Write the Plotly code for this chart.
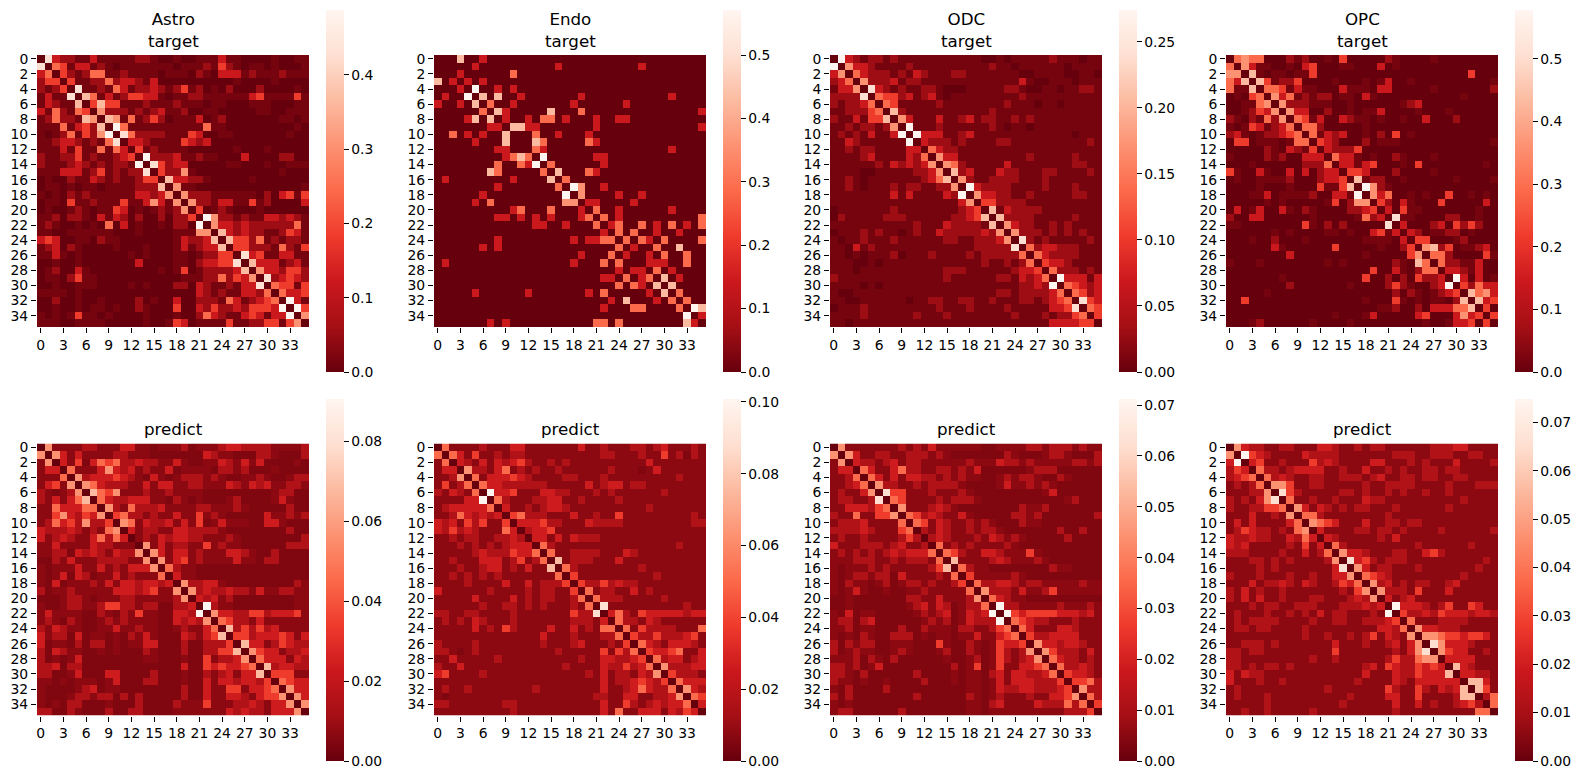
import plotly.graph_objects as go

W, H = 1583, 779
N = 36

# Colour steps used by the digit codes below (fraction of each panel's maximum)
TARGET_LEVELS = [0.0, 0.03, 0.11, 0.25, 0.375, 0.5, 0.625, 0.75, 0.875, 1.0]
PREDICT_LEVELS = [0.05, 0.075, 0.16, 0.26, 0.375, 0.5, 0.625, 0.75, 0.875, 1.0]

# Each matrix is symmetric with a zero diagonal. Row i holds columns i+1..35 as digit codes.
ASTRO_TARGET = [
    "83221131111122100100111311000010011",
    "5413312101111111011121421011010001",
    "421255112111101110210333121112111",
    "41122523321300000000001000010000",
    "8112153122321241201020002000010",
    "751312443310112211111134111141",
    "47441112111211101100011100011",
    "6222121231120011000001100111",
    "761512420111301200000001101",
    "95111111111151100000000010",
    "8522221114300110000000100",
    "332111143230000000000000",
    "41211110000001000100000",
    "9222311211000300002200",
    "842330000011000100111",
    "42261000000000001000",
    "7332210000010000000",
    "611000000000000001",
    "62221111110203414",
    "6221331141200003",
    "401210001000000",
    "96221211332321",
    "6332322222251",
    "732322112431",
    "74425121221",
    "4422215214",
    "834113311",
    "73331231",
    "6332442",
    "823432",
    "54414",
    "5334",
    "931",
    "94",
    "6",
]

# Endo target is mostly empty, so only the non-zero cells are listed: row -> {column: code}
ENDO_TARGET = {
    0: {3: 7, 6: 3}, 1: {5: 3, 16: 3, 27: 3}, 2: {3: 3, 10: 5}, 3: {0: 7, 2: 3, 4: 3, 6: 3},
    4: {3: 3, 5: 9, 8: 3, 10: 3}, 5: {1: 3, 4: 9, 6: 7, 8: 7, 11: 3, 19: 3, 31: 3},
    6: {0: 3, 3: 3, 5: 7, 7: 5, 10: 3, 18: 3, 25: 3}, 7: {6: 5, 8: 7, 15: 7, 19: 5, 35: 3},
    8: {4: 3, 5: 7, 7: 7, 9: 3, 12: 3, 14: 5, 15: 5, 17: 3, 21: 3, 24: 3, 25: 3},
    9: {7: 3, 8: 3, 10: 7, 11: 7, 12: 3, 13: 3, 21: 3, 35: 3},
    10: {2: 5, 4: 3, 6: 3, 9: 7, 13: 5, 16: 3, 20: 3},
    11: {5: 3, 9: 7, 13: 7, 14: 5, 20: 5, 21: 3}, 12: {8: 3, 9: 3, 13: 5, 14: 3, 31: 3},
    13: {9: 3, 10: 5, 11: 7, 12: 5, 14: 9, 21: 3, 22: 3},
    14: {8: 5, 11: 5, 12: 3, 13: 9, 15: 5, 22: 3},
    15: {7: 7, 8: 5, 14: 5, 16: 7, 20: 5, 21: 3}, 16: {1: 3, 10: 3, 15: 7, 17: 5},
    17: {8: 3, 16: 5, 18: 9, 19: 6, 22: 3}, 18: {6: 3, 17: 9, 19: 6, 24: 3, 27: 3},
    19: {5: 3, 7: 5, 17: 5, 18: 5, 20: 3, 21: 3, 26: 3},
    20: {10: 3, 11: 5, 15: 5, 19: 3, 21: 5, 24: 3, 31: 3},
    21: {8: 3, 9: 3, 11: 3, 13: 3, 15: 3, 19: 3, 20: 5, 22: 5, 35: 5},
    22: {13: 3, 14: 3, 17: 3, 21: 5, 23: 3, 24: 5, 27: 5, 29: 3, 31: 5, 33: 3, 35: 5},
    23: {22: 3, 24: 5, 26: 5, 29: 3, 32: 3},
    24: {8: 3, 18: 3, 20: 3, 21: 3, 22: 5, 23: 5, 25: 5, 27: 5, 28: 3, 30: 5, 35: 5},
    25: {6: 3, 8: 3, 24: 5, 26: 3, 29: 5, 32: 7}, 26: {19: 3, 23: 5, 25: 3, 28: 3, 30: 5, 33: 5},
    27: {1: 3, 18: 3, 22: 5, 24: 5, 28: 3, 29: 3, 30: 3, 33: 5},
    28: {24: 3, 26: 3, 27: 3, 29: 5, 31: 3},
    29: {22: 3, 23: 3, 25: 5, 27: 3, 28: 5, 30: 7, 32: 3}, 30: {24: 5, 26: 5, 27: 3, 29: 7, 31: 7},
    31: {5: 3, 12: 3, 20: 3, 22: 5, 28: 3, 30: 7, 32: 5}, 32: {23: 3, 25: 7, 29: 3, 31: 5, 33: 5},
    33: {22: 3, 26: 5, 27: 5, 32: 5, 34: 8, 35: 7}, 34: {33: 9, 35: 3},
    35: {7: 3, 9: 3, 21: 5, 22: 5, 24: 5, 33: 7, 34: 3},
}

ODC_TARGET = [
    "93212212111111111110010111112111011",
    "6332111121111111111211011111101111",
    "532221213211122111111100111100110",
    "62223122111111111111131001110111",
    "8321211221000111112210011011221",
    "544231231011111111121111111111",
    "54111112111111112111011011111",
    "7211111111111211111111111111",
    "63111311231221121211111111",
    "9111211111121011011111111",
    "933311231111111111111011",
    "32221211112211111111112",
    "5322111111111111111111",
    "633111111111211111211",
    "65211111311111111221",
    "7231113221112211112",
    "621122221112111111",
    "93222211112111211",
    "6332211211111221",
    "442222111111111",
    "71322221111111",
    "7222211111211",
    "632211212111",
    "62221212121",
    "8212111112",
    "523322211",
    "53222211",
    "4332111",
    "522212",
    "933313",
    "54323",
    "5423",
    "843",
    "54",
    "4",
]

# OPC target is listed the same way as Endo
OPC_TARGET = {
    0: {1: 5, 2: 6, 3: 5, 4: 5, 8: 2, 9: 1, 10: 2, 13: 1, 15: 4, 21: 2, 22: 1, 27: 1},
    1: {2: 6, 3: 3, 4: 1, 5: 1, 8: 1, 10: 3, 11: 4, 15: 1, 16: 1, 20: 3, 22: 1},
    2: {3: 7, 4: 1, 6: 1, 7: 1, 9: 1, 10: 1, 11: 4, 32: 4},
    3: {4: 7, 5: 4, 6: 1, 7: 2, 8: 2, 9: 4, 14: 1, 18: 1, 20: 1, 21: 3, 24: 1, 35: 1},
    4: {5: 5, 6: 5, 7: 4, 8: 1, 9: 3, 10: 1, 11: 1, 15: 3, 16: 1, 17: 1, 18: 1, 20: 3, 21: 3, 27: 1, 35: 2},
    5: {6: 6, 7: 3, 8: 5, 9: 1, 10: 2, 11: 1, 12: 2, 13: 2, 15: 1, 16: 1, 18: 3, 19: 1, 31: 1},
    6: {7: 6, 8: 2, 9: 2, 10: 2, 11: 1, 12: 1, 13: 1, 16: 1, 23: 1, 24: 2, 25: 3},
    7: {8: 6, 9: 3, 10: 3, 13: 2, 16: 1, 18: 1, 19: 1, 20: 3, 25: 1, 29: 1},
    8: {9: 5, 10: 4, 11: 1, 12: 3, 15: 3, 16: 2, 17: 1, 18: 1, 20: 1, 23: 1, 26: 3, 30: 2},
    9: {10: 5, 11: 5, 12: 2, 18: 1},
    10: {11: 5, 12: 1, 13: 3, 14: 2, 15: 3, 18: 1, 20: 2, 22: 4, 24: 1},
    11: {12: 4, 13: 3, 14: 2, 18: 2, 20: 1, 21: 1, 22: 1, 35: 1},
    12: {13: 3, 14: 2, 15: 2, 16: 2, 17: 4},
    13: {14: 5, 15: 3, 16: 3, 17: 1, 19: 1, 22: 2, 23: 1, 27: 1},
    14: {15: 3, 16: 3, 17: 1, 18: 3, 19: 4, 23: 1, 25: 4, 34: 1},
    15: {16: 4, 17: 4, 18: 3, 22: 2, 27: 1},
    16: {17: 7, 18: 1, 19: 2, 20: 2, 23: 1, 30: 1, 35: 1},
    17: {18: 9, 19: 6, 20: 2, 21: 1},
    18: {19: 6, 20: 3, 21: 5, 24: 1, 26: 1, 29: 4, 32: 1, 34: 1},
    19: {20: 4, 21: 2, 23: 3, 24: 1, 28: 4, 34: 3},
    20: {21: 3, 23: 4, 24: 1, 25: 1, 33: 1},
    21: {22: 8, 23: 1, 24: 1, 29: 2, 30: 2, 33: 1},
    22: {23: 3, 27: 2, 28: 3, 30: 4, 31: 2, 32: 4, 33: 2},
    23: {24: 3, 25: 2, 27: 1, 28: 1, 29: 2, 30: 2, 32: 1},
    24: {25: 4, 26: 4, 30: 1, 31: 2},
    25: {26: 6, 27: 7, 28: 2, 29: 4, 31: 1, 32: 1, 33: 2, 34: 3},
    26: {27: 5, 28: 5, 29: 2, 34: 4, 35: 1},
    27: {28: 5, 29: 2, 30: 2, 31: 1, 32: 1, 33: 3},
    28: {29: 3, 30: 3, 31: 2, 32: 1, 33: 3},
    29: {30: 9, 31: 3, 33: 3, 35: 1},
    30: {31: 4, 32: 2, 33: 5, 34: 3, 35: 3},
    31: {32: 7, 33: 5, 34: 6, 35: 3},
    32: {33: 7, 34: 3, 35: 4},
    33: {34: 4},
    34: {35: 4},
}

ASTRO_PREDICT = [
    "61111221113311011120111233222211112",
    "6313111122111000000032110002210002",
    "314035452232211310011321313000010",
    "51113632312113011110221200010000",
    "6233343210310122212100112100122",
    "653222113133112211132132311221",
    "75461112112111100000000012200",
    "5322333110210100012000013100",
    "621522231111221112100000200",
    "45221211311412100000311212",
    "6513223131401311100331000",
    "312211332222100000000200",
    "12132332211121000000002",
    "6131221141211000000222",
    "631331211133210020000",
    "61341211113110220000",
    "5211000000000000000",
    "311000000000000000",
    "622331000000000211",
    "62322322131122",
    "3231200000000",
    "921100000000",
    "633224423334",
    "54221311111",
    "7242423",
    "44233343132",
    "733124322",
    "64331223",
    "5333132",
    "723322",
    "44411",
    "5433",
    "633",
    "63",
    "6",
]

ENDO_PREDICT = [
    "51111211133111111131121112212311121",
    "5314112122111111111122111211412021",
    "32131323421121211111111113111111111",
    "6221351212112111111211101311111111",
    "51333432111122111211111111121111",
    "5332222221111131233122111111112",
    "93341113322111212111111211111",
    "5211122331121111211111111111",
    "3112123321111111111211111",
    "45222111311211411111111121",
    "3334221113222211111111122",
    "233411111111111111111111",
    "33131322211111111111111",
    "5211111111111111112111",
    "51122221113211111111",
    "7122211131111111111",
    "521111111121111111",
    "41111111111211111",
    "42242322111111111",
    "5122113121111111",
    "522211111211111",
    "81111111111211",
    "3521433333233",
    "5221321111111",
    "51422221115",
    "4224222341",
    "53213332",
    "43345113",
    "5233123",
    "622233",
    "42221",
    "5333",
    "632",
    "54",
    "3",
]

ODC_PREDICT = [
    "61111111212131111110011112212221211",
    "6311221122212100000002100012210002",
    "322123122111111211132212111112212",
    "53113522112212130000001222000000",
    "5313133221212110012122100210000",
    "622112122221000013112121000000",
    "84411121112100000000013000000",
    "5411112122210000000000012000",
    "611123210000000021120000000",
    "54232113100000221200000002",
    "5413211212100021100000000",
    "213211212210000000200200",
    "23211121321210000020000",
    "5121211112100000000000",
    "542113321114100000000",
    "71111232111210000000",
    "5211000000002110000",
    "411111210000000000",
    "52233212211111211",
    "6222131124111111",
    "532110000000000",
    "92211111211121",
    "943444433323",
    "54322111211",
    "5311133211",
    "42233331112",
    "63323321",
    "6422213",
    "532212",
    "52232",
    "43321",
    "4452",
    "622",
    "52",
    "4",
]

OPC_PREDICT = [
    "63221122111332112122111111222331111",
    "9432111132222111111122211222112211",
    "3411211142321111331112121113111121",
    "52212333311211311212112212211111",
    "52321122112221231122122112211113",
    "66411221111121122221111211122211",
    "84211111221211212112112111111",
    "5112112111322111111111121111",
    "63132121221112111111211111",
    "5521111111121111111",
    "6543111311221221111111",
    "31111221221211112111111211",
    "3211111213111111111111111",
    "5211111111121111112111",
    "6332111221134211111",
    "8342122211111111112",
    "631221112111111121",
    "54321111111112111",
    "6231212211231111",
    "6222141113111",
    "3123111111111",
    "9333212411431",
    "4223243332332",
    "5111222211111",
    "63322211111",
    "665443443",
    "863332",
    "6433112",
    "33331",
    "7321",
    "33221",
    "773",
    "74",
    "25",
    "5",
]

TITLES = ["Astro<br>target", "Endo<br>target", "ODC<br>target", "OPC<br>target",
          "predict", "predict", "predict", "predict"]
V_MAX = [0.4875, 0.571, 0.274, 0.578, 0.0905, 0.1008, 0.0712, 0.0748]
CBAR_STEP = [0.1, 0.1, 0.05, 0.1, 0.02, 0.02, 0.01, 0.01]
CBAR_FORMAT = [".1f", ".1f", ".2f", ".1f", ".2f", ".2f", ".2f", ".2f"]
X_TICKS = list(range(0, 36, 3))
Y_TICKS = list(range(0, 36, 2))

REDS_R = [[0, "#67000d"], [0.125, "#a50f15"], [0.25, "#cb181d"], [0.375, "#ef3b2c"],
          [0.5, "#fb6a4a"], [0.625, "#fc9272"], [0.75, "#fcbba1"], [0.875, "#fee0d2"],
          [1, "#fff5f0"]]

# Pixel layout of the 4x2 grid
HEAT_LEFT = [37, 434, 830, 1226]
CBAR_LEFT = [326, 723, 1119, 1515]
HEAT_SIZE = 272
HEAT_TOP = [55, 443.5]
CBAR_TOP = [10, 399]
CBAR_LEN = 362


def from_rows(rows, vmax, levels):
    z = [[0.0] * N for _ in range(N)]
    for i, row in enumerate(rows):
        codes = row[: N - 1 - i].ljust(N - 1 - i, "1")
        for k, ch in enumerate(codes):
            v = levels[int(ch)] * vmax
            z[i][i + 1 + k] = v
            z[i + 1 + k][i] = v
    return z


def from_cells(cells, vmax, levels):
    z = [[0.0] * N for _ in range(N)]
    for i, row in cells.items():
        for j, code in row.items():
            v = levels[code] * vmax
            z[i][j] = max(z[i][j], v)
            z[j][i] = max(z[j][i], v)
    return z


matrices = [
    from_rows(ASTRO_TARGET, V_MAX[0], TARGET_LEVELS),
    from_cells(ENDO_TARGET, V_MAX[1], TARGET_LEVELS),
    from_rows(ODC_TARGET, V_MAX[2], TARGET_LEVELS),
    from_cells(OPC_TARGET, V_MAX[3], TARGET_LEVELS),
    from_rows(ASTRO_PREDICT, V_MAX[4], PREDICT_LEVELS),
    from_rows(ENDO_PREDICT, V_MAX[5], PREDICT_LEVELS),
    from_rows(ODC_PREDICT, V_MAX[6], PREDICT_LEVELS),
    from_rows(OPC_PREDICT, V_MAX[7], PREDICT_LEVELS),
]

FONT = "DejaVu Sans"
fig = go.Figure()
annotations = []
layout_axes = {}

for idx, z in enumerate(matrices):
    col, row = idx % 4, idx // 4
    suffix = "" if idx == 0 else str(idx + 1)
    x0 = HEAT_LEFT[col]
    top = HEAT_TOP[row]
    vmax, step = V_MAX[idx], CBAR_STEP[idx]
    count = int(vmax / step + 1e-9) + 1
    fig.add_trace(go.Heatmap(
        z=z, x=list(range(N)), y=list(range(N)),
        xaxis="x" + suffix, yaxis="y" + suffix,
        zmin=0, zmax=vmax, colorscale=REDS_R, hoverongaps=False,
        colorbar=dict(
            thickness=18, thicknessmode="pixels",
            lenmode="fraction", len=CBAR_LEN / H,
            x=CBAR_LEFT[col] / W, xanchor="left", xpad=0,
            y=1 - (CBAR_TOP[row] + CBAR_LEN) / H, yanchor="bottom", ypad=0,
            outlinewidth=0,
            ticks="outside", ticklen=5, tickwidth=1, tickcolor="black",
            tickmode="array",
            tickvals=[k * step for k in range(count)],
            tickformat=CBAR_FORMAT[idx],
            tickfont=dict(family=FONT, size=13.9, color="black"),
        ),
    ))
    layout_axes["xaxis" + suffix] = dict(
        domain=[x0 / W, (x0 + HEAT_SIZE) / W], range=[-0.5, N - 0.5],
        anchor="y" + suffix, tickmode="array", tickvals=X_TICKS, ticks="outside",
        ticklen=5, tickwidth=1, tickcolor="black", showgrid=False, zeroline=False,
        showline=False, tickangle=0, tickfont=dict(family=FONT, size=13.9, color="black"),
    )
    layout_axes["yaxis" + suffix] = dict(
        domain=[1 - (top + HEAT_SIZE) / H, 1 - top / H], range=[N - 0.5, -0.5],
        anchor="x" + suffix, tickmode="array", tickvals=Y_TICKS, ticks="outside",
        ticklen=5, tickwidth=1, tickcolor="black", showgrid=False, zeroline=False,
        showline=False, tickangle=0, tickfont=dict(family=FONT, size=13.9, color="black"),
    )
    annotations.append(dict(
        text=TITLES[idx], x=(x0 + HEAT_SIZE / 2) / W, y=1 - (top - 2.5) / H,
        xref="paper", yref="paper", xanchor="center", yanchor="bottom",
        showarrow=False, font=dict(family=FONT, size=16.7, color="black"),
    ))

fig.update_layout(
    width=W, height=H, autosize=False,
    margin=dict(l=0, r=0, t=0, b=0, pad=0, autoexpand=False),
    paper_bgcolor="white", plot_bgcolor="white",
    annotations=annotations, **layout_axes,
)

fig.write_html("out.html")
